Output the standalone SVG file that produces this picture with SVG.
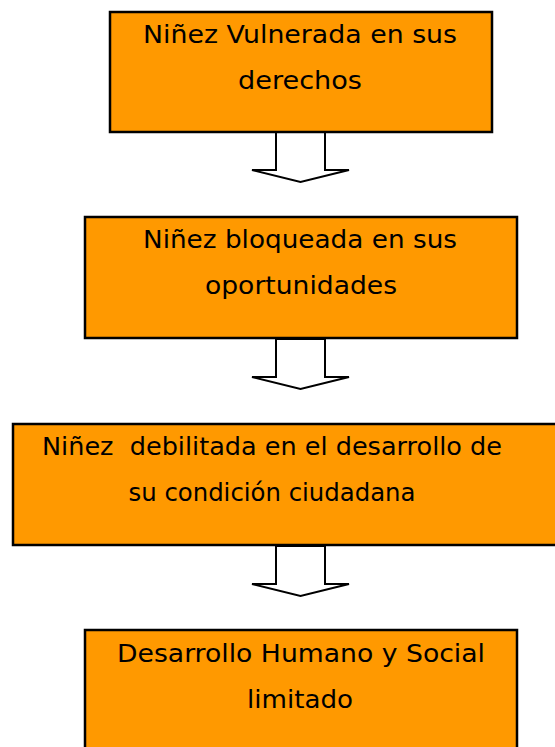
<svg xmlns="http://www.w3.org/2000/svg" width="555" height="747" viewBox="0 0 555 747">
<style>
.box{fill:#FF9900;stroke:#000;stroke-width:2.5}
.arr{fill:#fff;stroke:#000;stroke-width:2;stroke-linejoin:miter}
.t{font-family:"DejaVu Sans","Liberation Sans",sans-serif;font-size:24px;fill:#000;text-anchor:middle}
</style>
<rect width="555" height="747" fill="#fff"/>
<g id="connectors">
<polygon class="arr" points="276,132 325,132 325,170 349,170 300.5,182 252,170 276,170"/>
<polygon class="arr" points="276,339 325,339 325,377 349,377 300.5,389 252,377 276,377"/>
<polygon class="arr" points="276,546 325,546 325,584 349,584 300.5,596 252,584 276,584"/>
</g>
<g id="node1">
<rect class="box" x="110" y="12" width="382" height="120"/>
<text class="t" x="300" y="43" textLength="314" lengthAdjust="spacingAndGlyphs">Niñez Vulnerada en sus</text>
<text class="t" x="300" y="89" textLength="124" lengthAdjust="spacingAndGlyphs">derechos</text>
</g>
<g id="node2">
<rect class="box" x="85" y="217" width="432" height="121"/>
<text class="t" x="300" y="248" textLength="314" lengthAdjust="spacingAndGlyphs">Niñez bloqueada en sus</text>
<text class="t" x="301" y="294" textLength="192" lengthAdjust="spacingAndGlyphs">oportunidades</text>
</g>
<g id="node3">
<rect class="box" x="13" y="424" width="560" height="121"/>
<text class="t" x="272" y="455" textLength="460" lengthAdjust="spacingAndGlyphs" xml:space="preserve">Niñez  debilitada en el desarrollo de</text>
<text class="t" x="272" y="501" textLength="287" lengthAdjust="spacingAndGlyphs">su condición ciudadana</text>
</g>
<g id="node4">
<rect class="box" x="85" y="630" width="432" height="130"/>
<text class="t" x="301" y="662" textLength="368" lengthAdjust="spacingAndGlyphs">Desarrollo Humano y Social</text>
<text class="t" x="300" y="708" textLength="106" lengthAdjust="spacingAndGlyphs">limitado</text>
</g>
</svg>
